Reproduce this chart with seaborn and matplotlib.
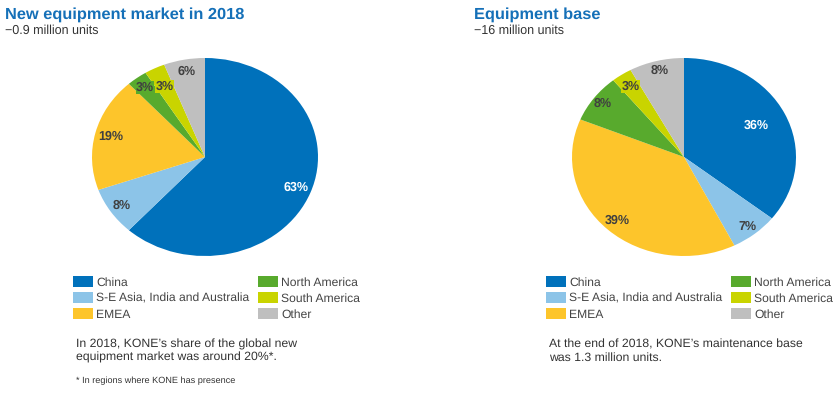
import matplotlib
matplotlib.use("Agg")
import numpy as np
import matplotlib.pyplot as plt
import seaborn as sns

# data
regions = ["China", "S-E Asia, India and Australia", "EMEA",
           "North America", "South America", "Other"]
new_equipment = [63, 8, 19, 3, 3, 6]
equipment_base = [36, 7, 39, 8, 3, 8]
region_colors = ["#0071bb", "#8cc4e8", "#fdc52b", "#58aa2d", "#c9d400", "#bfbfbf"]

sns.set_theme(style="white")
plt.rcParams["font.family"] = ["Liberation Sans", "DejaVu Sans"]
plt.rcParams["text.hinting"] = "no_hinting"

palette = sns.color_palette(region_colors)
title_color = "#1570b8"
text_color = "#333333"

fig = plt.figure(figsize=(8.39, 3.94), dpi=100)
W, H = 839, 394


def px_axes(x0, y0, x1, y1):
    return fig.add_axes([x0 / W, 1 - y1 / H, (x1 - x0) / W, (y1 - y0) / H])


def draw_pie(ax, values, dists):
    wedges, _ = ax.pie(values, colors=palette, startangle=90, counterclock=False,
                       wedgeprops=dict(linewidth=0))
    for i, (w, v) in enumerate(zip(wedges, values)):
        ang = np.deg2rad((w.theta1 + w.theta2) / 2)
        # only the small slices get a coloured box behind the label
        box = dict(facecolor=palette[i], edgecolor="none", pad=0.3) if v <= 3 else None
        ax.text(dists[i] * np.cos(ang), dists[i] * np.sin(ang), f"{v}%",
                ha="center", va="center", fontsize=9, fontweight="bold",
                color="white" if i == 0 else "#404040", bbox=box)
    ax.set_aspect("auto")
    ax.set_xlim(-1, 1)
    ax.set_ylim(-1, 1)
    ax.axis("off")
    return wedges


left = px_axes(92, 58, 318, 256)
wedges = draw_pie(left, new_equipment, [0.86, 0.88, 0.86, 0.88, 0.8, 0.88])
right = px_axes(572, 58, 796, 256)
draw_pie(right, equipment_base, [0.72, 0.9, 0.88, 0.9, 0.86, 0.9])

# titles
fig.text(5 / W, 1 - 15 / H, "New equipment market in 2018", fontsize=11.8, fontweight="bold",
         color=title_color, va="center")
fig.text(5 / W, 1 - 31 / H, "\u22120.9 million units", fontsize=9, color=text_color, va="center")
fig.text(474 / W, 1 - 15 / H, "Equipment base", fontsize=11.8, fontweight="bold",
         color=title_color, va="center")
fig.text(474 / W, 1 - 31 / H, "\u221216 million units", fontsize=9, color=text_color, va="center")

# legends
for x0 in (73, 546):
    fig.legend(wedges, regions, ncol=2, loc="upper left",
               bbox_to_anchor=(x0 / W, 1 - 276 / H), frameon=False,
               fontsize=8.7, handlelength=1.65, handleheight=1.0, handletextpad=0.25,
               labelspacing=0.34, columnspacing=0.75, borderpad=0, borderaxespad=0,
               labelcolor="#444444")

# notes
fig.text(76 / W, 1 - 351 / H, "In 2018, KONE\u2019s share of the global new\nequipment market was around 20%*.",
         fontsize=8.85, color=text_color, va="center", linespacing=1.2)
fig.text(76 / W, 1 - 381 / H, "* In regions where KONE has presence",
         fontsize=6.6, color=text_color, va="center")
fig.text(549 / W, 1 - 351 / H, "At the end of 2018, KONE\u2019s maintenance base\nwas 1.3 million units.",
         fontsize=8.85, color=text_color, va="center", linespacing=1.2)

fig.savefig("out.png", dpi=100)
